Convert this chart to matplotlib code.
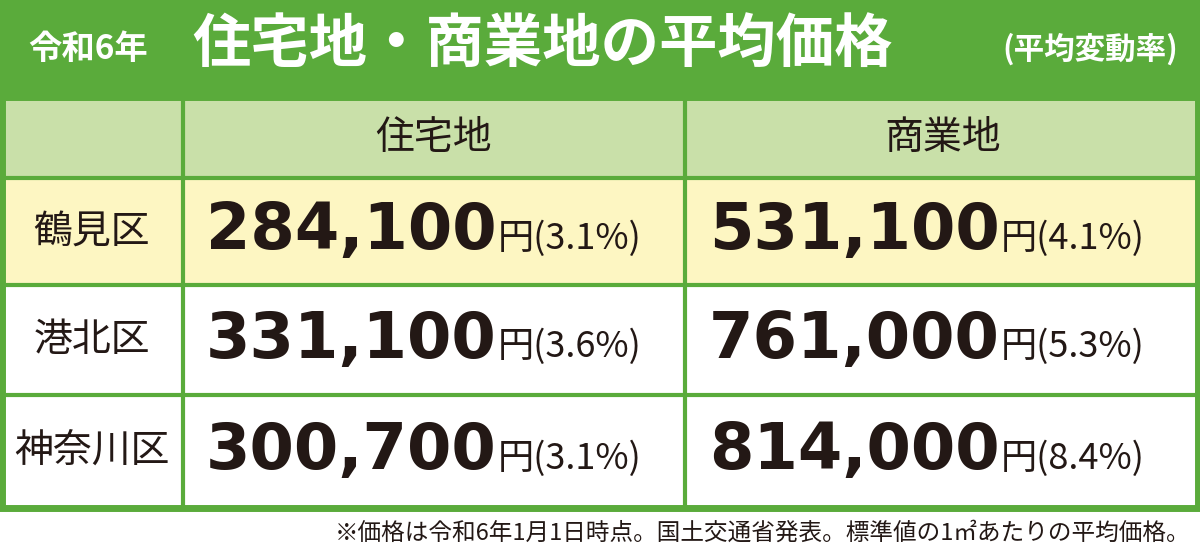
import matplotlib
matplotlib.use("Agg")
import matplotlib.pyplot as plt
from matplotlib.patches import Rectangle

plt.rcParams['font.family'] = ['Noto Sans CJK JP', 'DejaVu Sans']

wards = ["鶴見区", "港北区", "神奈川区"]
columns = ["住宅地", "商業地"]
res_price = ["284,100", "331,100", "300,700"]
res_rate = ["3.1%", "3.6%", "3.1%"]
com_price = ["531,100", "761,000", "814,000"]
com_rate = ["4.1%", "5.3%", "8.4%"]

GREEN = "#5aab3b"
LGREEN = "#c9e0a9"
YELLOW = "#fdf6c2"
TXT = "#231815"

fig = plt.figure(figsize=(12, 5.58), dpi=100)
ax = fig.add_axes([0, 0, 1, 1])
ax.set_xlim(0, 1200); ax.set_ylim(558, 0); ax.axis('off')

ax.add_patch(Rectangle((0, 0), 1200, 97, color=GREEN, lw=0))
ax.text(28, 49, "令和6年", color="white", fontsize=24, fontweight='bold', va='center', ha='left')
ax.text(192, 45, "住宅地・商業地の平均価格", color="white", fontsize=42, fontweight='bold', va='center', ha='left')
ax.text(1178, 49, "(平均変動率)", color="white", fontsize=22, fontweight='bold', va='center', ha='right')

xs = [0, 183, 685, 1200]
ys = [97, 178, 285, 395, 508]
ax.add_patch(Rectangle((0, ys[0]), 1200, ys[1]-ys[0], color=LGREEN, lw=0))
ax.add_patch(Rectangle((0, ys[1]), 1200, ys[2]-ys[1], color=YELLOW, lw=0))
ax.add_patch(Rectangle((0, ys[2]), 1200, ys[4]-ys[2], color="white", lw=0))
for x in xs[1:-1]:
    ax.plot([x, x], [ys[0], ys[4]], color=GREEN, lw=3)
for y in ys[1:-1]:
    ax.plot([0, 1200], [y, y], color=GREEN, lw=3)
ax.add_patch(Rectangle((2, ys[0]), 1196, ys[4]-ys[0], fill=False, ec=GREEN, lw=5))

for j, c in enumerate(columns):
    ax.text((xs[j+1]+xs[j+2])/2, (ys[0]+ys[1])/2, c, fontsize=28, color=TXT, ha='center', va='center')

num_right = [497, 1000]
for i, w in enumerate(wards):
    yc = (ys[i+1]+ys[i+2])/2
    ax.text(92, yc, w, fontsize=28, color=TXT, ha='center', va='center')
    for j, (p, r) in enumerate([(res_price[i], res_rate[i]), (com_price[i], com_rate[i])]):
        ax.text(num_right[j], yc, p, fontsize=46, fontweight='bold', color=TXT,
                ha='right', va='center', family=['DejaVu Sans'])
        ax.text(num_right[j] + 1, yc + 7, "円(" + r + ")", fontsize=26, color=TXT, ha='left', va='center')

ax.text(1190, 533, "※価格は令和6年1月1日時点。国土交通省発表。標準値の1㎡あたりの平均価格。",
        fontsize=17, color=TXT, ha='right', va='center')

fig.savefig("out.png", dpi=100)
